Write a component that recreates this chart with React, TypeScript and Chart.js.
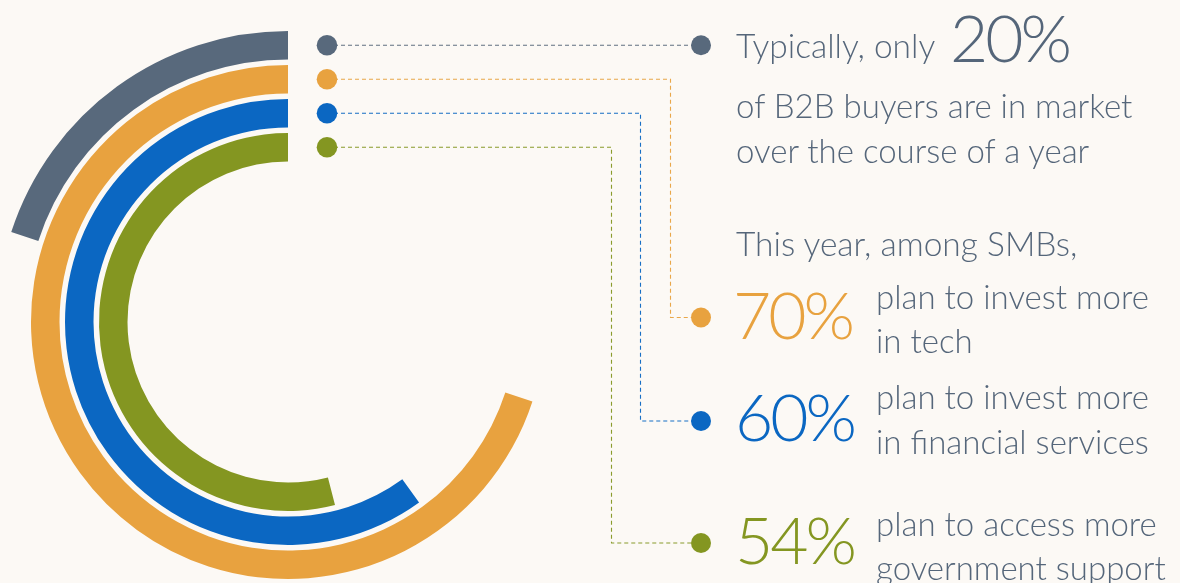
import React, { useEffect, useRef } from "react";
import { Chart, registerables } from "chart.js";

Chart.register(...registerables);

// ---- data ----
const segments = [
  "B2B buyers in market over a year",
  "SMBs planning to invest more in tech",
  "SMBs planning to invest more in financial services",
  "SMBs planning to access more government support",
];
const percentValues = [20, 70, 60, 54];
const ringColors = ["#58697C", "#E8A23F", "#0B67C2", "#849621"];

// ---- layout constants ----
const BG = "#FCF9F5";
const TEXT = "#55667A";
const CANVAS_LEFT = -3;
const CANVAS_TOP = 31;
const CANVAS_W = 1183;
const CANVAS_H = 582;
const RING_W = 28.5;
const GAP_W = 5.5;
const INNER_R = 160.5;
const FONT = "Lato, 'Open Sans', 'Noto Sans', sans-serif";

// leader targets (page coordinates)
const leaderRight = [
  { elbowX: null as number | null, y: null as number | null, dotX: 701 },
  { elbowX: 670, y: 317.5, dotX: 701 },
  { elbowX: 640, y: 421, dotX: 701 },
  { elbowX: 611, y: 543, dotX: 701 },
];

const ringDatasetIndex = [0, 2, 4, 6];

const leaderPlugin = {
  id: "leaders",
  afterDatasetsDraw(chart: any) {
    const ctx: CanvasRenderingContext2D = chart.ctx;
    const toCx = (px: number) => px - CANVAS_LEFT;
    const toCy = (py: number) => py - CANVAS_TOP;
    ringDatasetIndex.forEach((dsIndex, i) => {
      const arc = chart.getDatasetMeta(dsIndex).data[1];
      const { x, y, innerRadius, outerRadius } = arc.getProps(
        ["x", "y", "innerRadius", "outerRadius"],
        true
      );
      const midR = (innerRadius + outerRadius) / 2;
      const y0 = y - midR;
      const x0 = x + 39;
      const color = ringColors[i];
      const t = leaderRight[i];
      ctx.save();
      ctx.strokeStyle = color;
      ctx.globalAlpha = 0.95;
      ctx.lineWidth = 1.1;
      ctx.setLineDash([4, 3]);
      ctx.beginPath();
      ctx.moveTo(x0, y0);
      let endX: number, endY: number;
      if (t.elbowX == null || t.y == null) {
        endX = toCx(t.dotX);
        endY = y0;
        ctx.lineTo(endX, endY);
      } else {
        const ex = toCx(t.elbowX) + 0.5;
        ctx.lineTo(ex, y0);
        endY = toCy(t.y);
        ctx.lineTo(ex, endY);
        endX = toCx(t.dotX);
        ctx.lineTo(endX, endY);
      }
      ctx.stroke();
      ctx.restore();

      ctx.save();
      ctx.fillStyle = color;
      ctx.beginPath();
      ctx.arc(x0, y0, 10.3, 0, Math.PI * 2);
      ctx.fill();
      ctx.beginPath();
      ctx.arc(endX, endY, 10, 0, Math.PI * 2);
      ctx.fill();
      ctx.restore();
    });
  },
};

function Txt(props: {
  x: number;
  baseline: number;
  size: number;
  color?: string;
  weight?: number;
  spacing?: number;
  children: React.ReactNode;
}) {
  const { x, baseline, size, color = TEXT, weight = 300, spacing = 0, children } = props;
  return (
    <div
      style={{
        position: "absolute",
        left: x,
        top: baseline - 0.887 * size,
        fontSize: size,
        lineHeight: `${size}px`,
        height: size,
        fontFamily: FONT,
        fontWeight: weight,
        letterSpacing: spacing,
        color,
        whiteSpace: "nowrap",
      }}
    >
      {children}
    </div>
  );
}

export default function App() {
  const ref = useRef<HTMLCanvasElement>(null);

  useEffect(() => {
    if (!ref.current) return;
    const datasets: any[] = [];
    percentValues.forEach((v, i) => {
      if (i > 0) {
        datasets.push({
          label: "gap",
          data: [100],
          backgroundColor: ["rgba(0,0,0,0)"],
          borderWidth: 0,
          weight: GAP_W,
        });
      }
      datasets.push({
        label: segments[i],
        data: [100 - v, v],
        backgroundColor: ["rgba(0,0,0,0)", ringColors[i]],
        borderWidth: 0,
        weight: RING_W,
      });
    });

    const chart = new Chart(ref.current, {
      type: "doughnut",
      data: { labels: ["rest", "share"], datasets },
      options: {
        responsive: false,
        animation: false,
        events: [],
        cutout: INNER_R,
        rotation: 0,
        circumference: 360,
        layout: { padding: { left: 0, top: 0, bottom: 0, right: CANVAS_W - CANVAS_H } },
        plugins: {
          legend: { display: false },
          tooltip: { enabled: false },
        },
      } as any,
      plugins: [leaderPlugin],
    });
    return () => chart.destroy();
  }, []);

  const body = 33;
  const head = 33.5;
  const big = 66;
  const bigSp = -3;

  return (
    <div
      style={{
        position: "fixed",
        left: 0,
        top: 0,
        width: 1180,
        height: 583,
        overflow: "hidden",
        background: BG,
      }}
    >
      <canvas
        ref={ref}
        width={CANVAS_W}
        height={CANVAS_H}
        style={{
          position: "absolute",
          left: CANVAS_LEFT,
          top: CANVAS_TOP,
          width: CANVAS_W,
          height: CANVAS_H,
        }}
      />
      <Txt x={736} baseline={59} size={head}>Typically, only</Txt>
      <Txt x={950} baseline={63} size={big} spacing={bigSp}>{percentValues[0]}%</Txt>
      <Txt x={736} baseline={118} size={body}>of B2B buyers are in market</Txt>
      <Txt x={736} baseline={163} size={body}>over the course of a year</Txt>

      <Txt x={736} baseline={257} size={head}>This year, among SMBs,</Txt>

      <Txt x={733} baseline={339.5} size={big} spacing={bigSp} color={ringColors[1]}>{percentValues[1]}%</Txt>
      <Txt x={876} baseline={309.5} size={body}>plan to invest more</Txt>
      <Txt x={876} baseline={353} size={body}>in tech</Txt>

      <Txt x={735} baseline={441.5} size={big} spacing={bigSp} color={ringColors[2]}>{percentValues[2]}%</Txt>
      <Txt x={876} baseline={409.5} size={body}>plan to invest more</Txt>
      <Txt x={876} baseline={454} size={body}>in financial services</Txt>

      <Txt x={735} baseline={565} size={big} spacing={bigSp} color={ringColors[3]}>{percentValues[3]}%</Txt>
      <Txt x={876} baseline={536.5} size={body}>plan to access more</Txt>
      <Txt x={876} baseline={580} size={body}>government support</Txt>
    </div>
  );
}
